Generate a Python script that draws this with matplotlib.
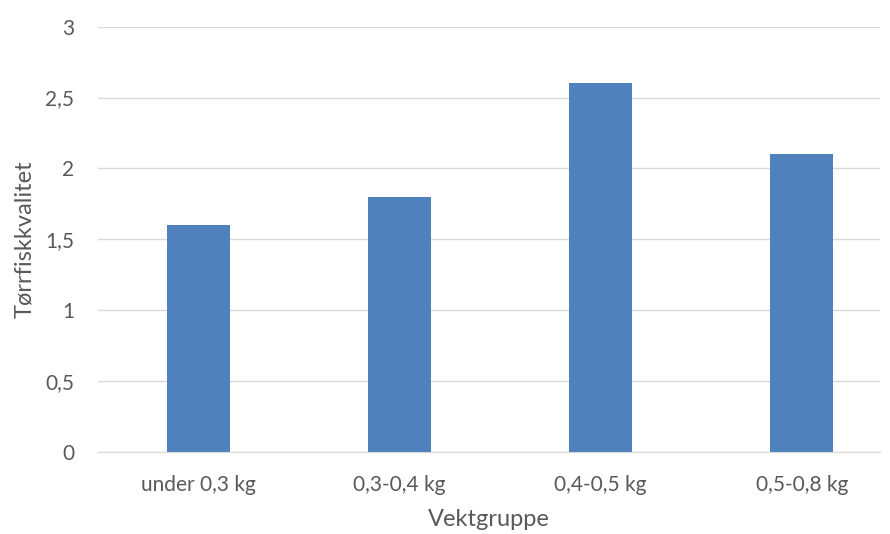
import matplotlib.pyplot as plt

# Data
categories = ["under 0,3 kg", "0,3-0,4 kg", "0,4-0,5 kg", "0,5-0,8 kg"]
values = [1.6, 1.8, 2.6, 2.1]
yticks = [0, 0.5, 1, 1.5, 2, 2.5, 3]
ytick_labels = ["0", "0,5", "1", "1,5", "2", "2,5", "3"]

plt.rcParams['font.family'] = ['Lato', 'DejaVu Sans']

fig = plt.figure(figsize=(8.9, 5.34), dpi=100)
ax = fig.add_axes([0.110, 0.154, 0.879, 0.796])

x = list(range(len(categories)))
ax.bar(x, values, width=0.315, color='#4f81bd', zorder=3)

ax.set_ylim(0, 3)
ax.set_xlim(-0.5, 3.39)
ax.set_yticks(yticks)
ax.set_yticklabels(ytick_labels)
ax.set_xticks(x)
ax.set_xticklabels(categories)
ax.grid(axis='y', color='#d9d9d9', linewidth=1, zorder=0)

for s in ['top', 'right', 'left']:
    ax.spines[s].set_visible(False)
ax.spines['bottom'].set_color('#d9d9d9')
ax.spines['bottom'].set_zorder(4)

ax.tick_params(axis='both', length=0, labelsize=15, labelcolor='#595959')
ax.tick_params(axis='x', pad=17)
ax.tick_params(axis='y', pad=17)

ax.set_xlabel("Vektgruppe", fontsize=17, color='#595959', labelpad=10)
ax.set_ylabel("Tørrfiskkvalitet", fontsize=17, color='#595959', labelpad=7)

fig.savefig("out.png", dpi=100)
